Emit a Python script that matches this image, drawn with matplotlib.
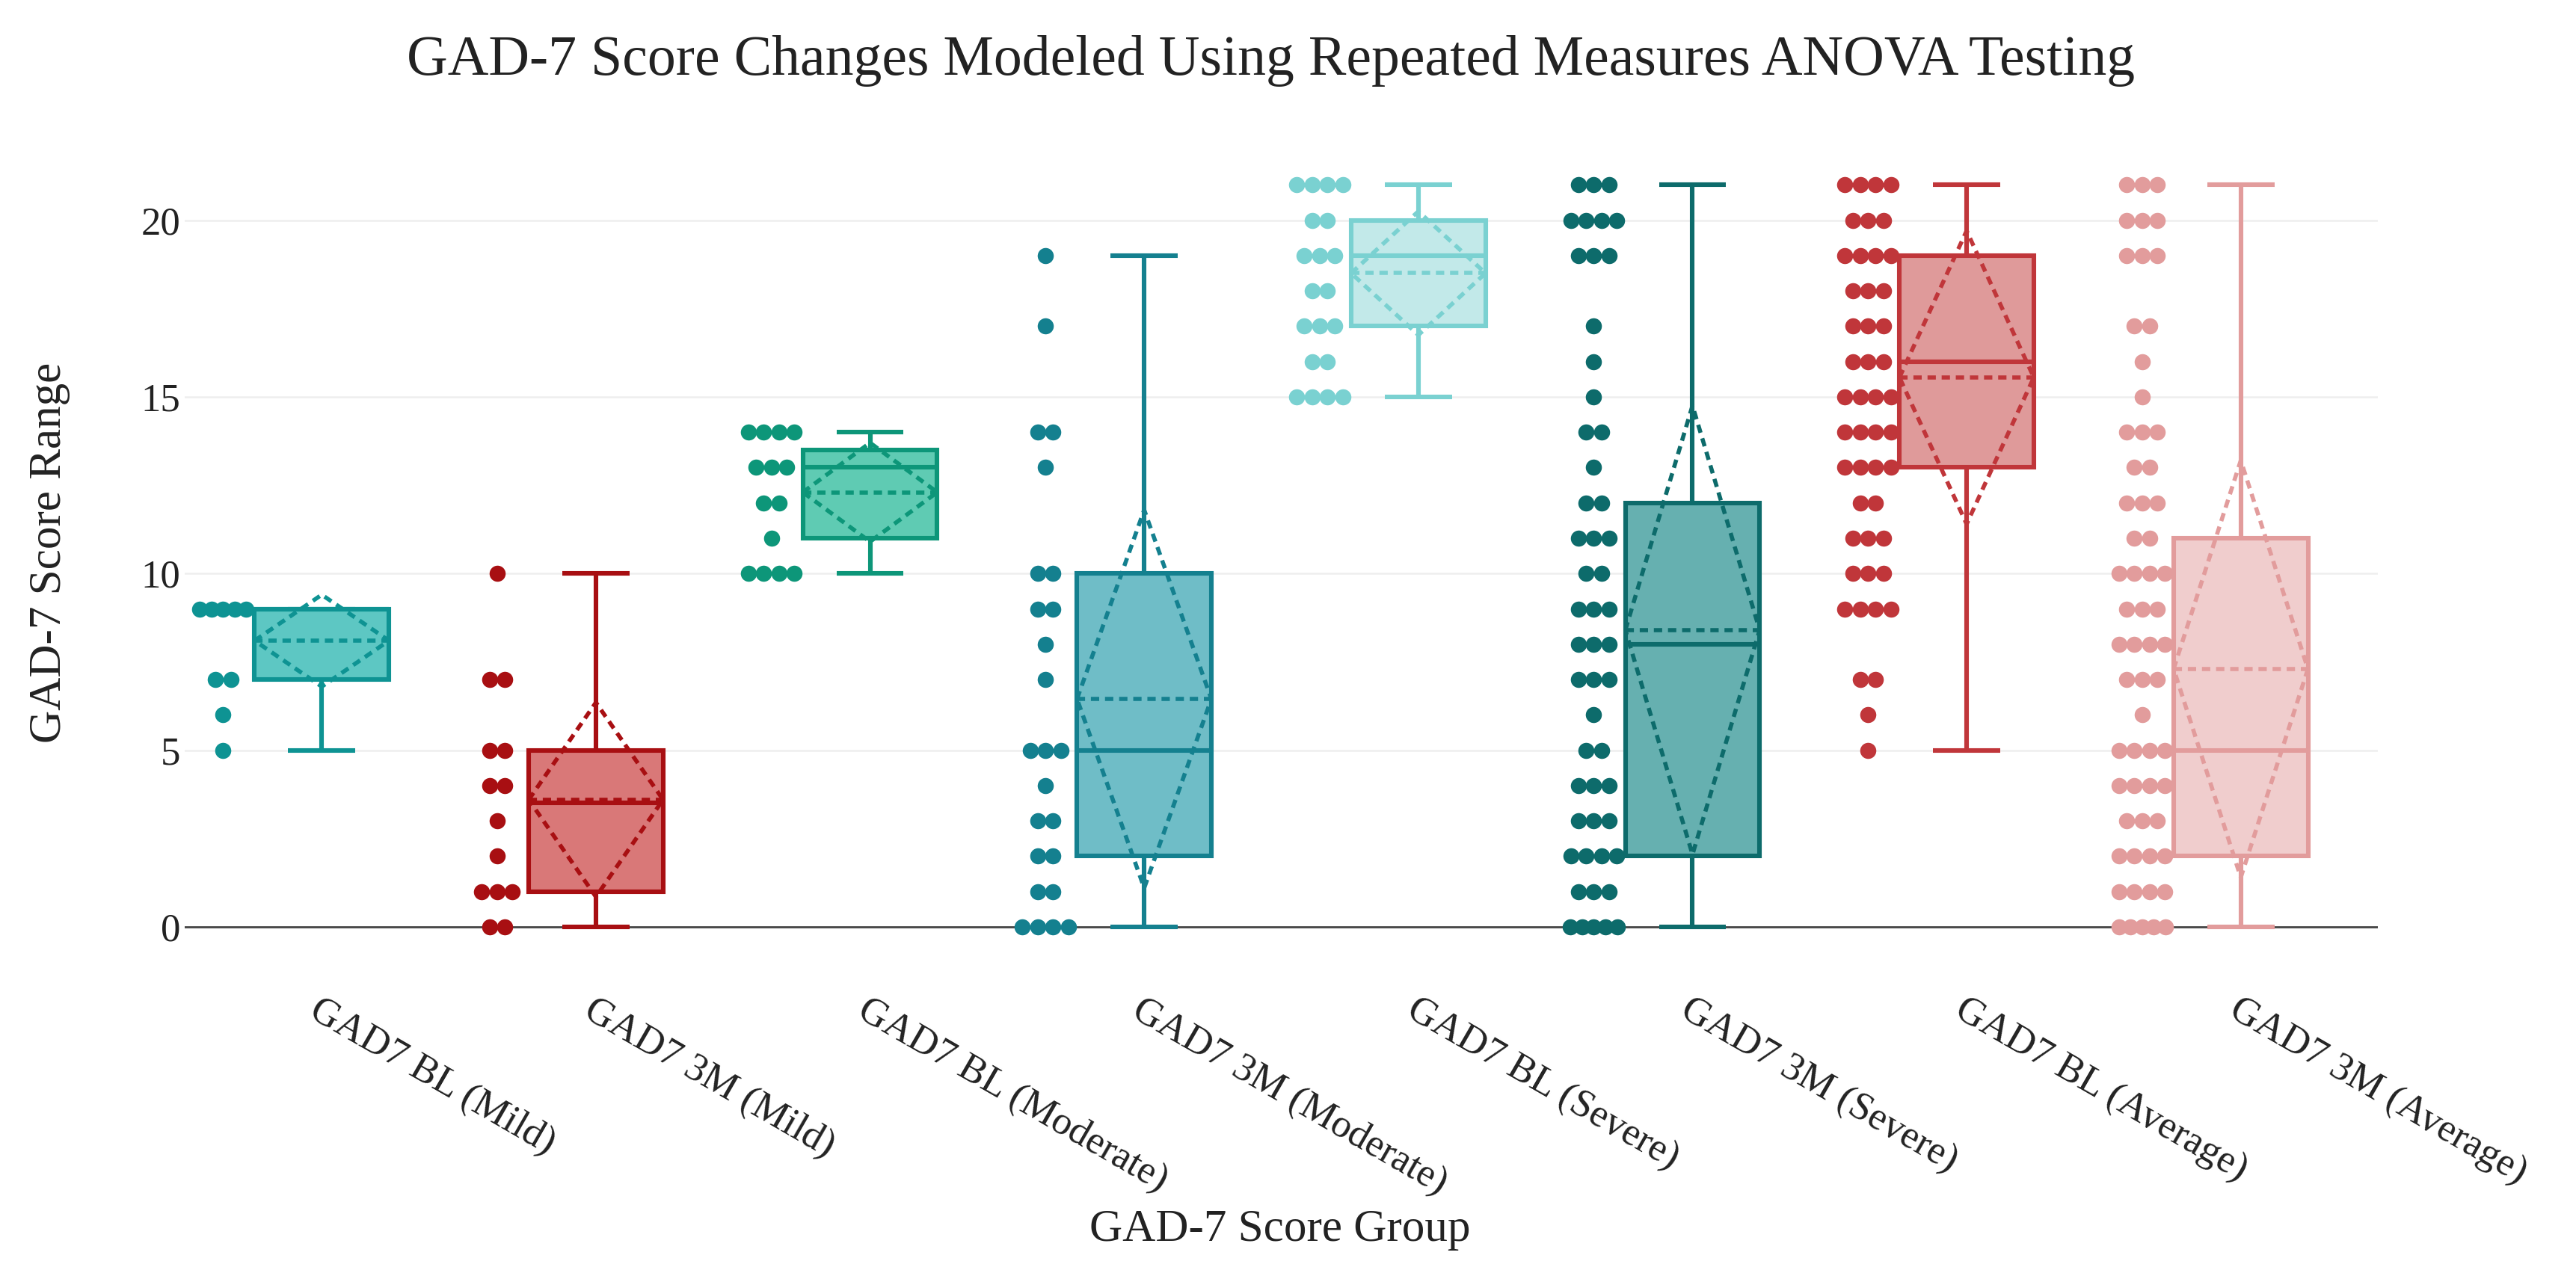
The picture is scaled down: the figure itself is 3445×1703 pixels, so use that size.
import matplotlib
matplotlib.use("Agg")
import matplotlib.pyplot as plt
import numpy as np

# ---------------- data ----------------
categories = ["GAD7 BL (Mild)", "GAD7 3M (Mild)", "GAD7 BL (Moderate)", "GAD7 3M (Moderate)",
              "GAD7 BL (Severe)", "GAD7 3M (Severe)", "GAD7 BL (Average)", "GAD7 3M (Average)"]

bl_mild = [9, 9, 9, 9, 9, 7, 7, 6, 5]
m3_mild = [10, 7, 7, 5, 5, 4, 4, 3, 2, 1, 1, 1, 0, 0]
bl_moderate = [14, 14, 14, 14, 13, 13, 13, 12, 12, 11, 10, 10, 10, 10]
m3_moderate = [19, 17, 14, 14, 13, 10, 10, 9, 9, 8, 7, 5, 5, 5, 4, 3, 3, 2, 2, 1, 1, 0, 0, 0, 0]
bl_severe = [21, 21, 21, 21, 20, 20, 19, 19, 19, 18, 18, 17, 17, 17, 16, 16, 15, 15, 15, 15]
m3_severe = [21, 21, 21, 20, 20, 20, 20, 19, 19, 19, 17, 16, 15, 14, 14, 13, 12, 12, 11, 11, 11,
             10, 10, 9, 9, 9, 8, 8, 8, 7, 7, 7, 6, 5, 5, 4, 4, 4, 3, 3, 3, 2, 2, 2, 2,
             1, 1, 1, 0, 0, 0, 0, 0]
bl_average = [21, 21, 21, 21, 20, 20, 20, 19, 19, 19, 19, 18, 18, 18, 17, 17, 17, 16, 16, 16,
              15, 15, 15, 15, 14, 14, 14, 14, 13, 13, 13, 13, 12, 12, 11, 11, 11, 10, 10, 10,
              9, 9, 9, 9, 7, 7, 6, 5]
m3_average = [21, 21, 21, 20, 20, 20, 19, 19, 19, 17, 17, 16, 15, 14, 14, 14, 13, 13, 12, 12, 12,
              11, 11, 10, 10, 10, 10, 9, 9, 9, 8, 8, 8, 8, 7, 7, 7, 6, 5, 5, 5, 5,
              4, 4, 4, 4, 3, 3, 3, 2, 2, 2, 2, 1, 1, 1, 1, 0, 0, 0, 0, 0]

points = [bl_mild, m3_mild, bl_moderate, m3_moderate, bl_severe, m3_severe, bl_average, m3_average]

# box statistics as drawn in the reference
q1 = [7, 1, 11, 2, 17, 2, 13, 2]
median = [9, 3.5, 13, 5, 19, 8, 16, 5]
q3 = [9, 5, 13.5, 10, 20, 12, 19, 11]
whisker_low = [5, 0, 10, 0, 15, 0, 5, 0]
whisker_high = [9, 10, 14, 19, 21, 21, 21, 21]
mean = [8.1, 3.6, 12.3, 6.45, 18.5, 8.4, 15.55, 7.3]
sd = [1.3, 2.75, 1.4, 5.35, 1.75, 6.35, 4.15, 5.9]

line_colors = ["#0e9393", "#a80f12", "#0d9679", "#14808f", "#7ad1d1", "#0d6b6b", "#c0363a", "#e29c9c"]
fill_colors = ["#5dc7c3", "#d97878", "#5fcbb3", "#6fbdc7", "#c2e9e9", "#66b0b0", "#df9a9a", "#f0cdcd"]

# ---------------- figure ----------------
W, H = 3445, 1703
DPI = 100
fig = plt.figure(figsize=(W / DPI, H / DPI), dpi=DPI)
fig.patch.set_facecolor("white")

serif = ["Liberation Serif", "DejaVu Serif"]
text_color = "#222222"

ax = fig.add_axes([247 / W, 0.2386, (3180 - 247) / W, 0.6495])
ax.set_xlim(-0.5, len(categories) - 0.5)
ax.set_ylim(-1.2, 22.2)
for s in ax.spines.values():
    s.set_visible(False)

# grid + zero line
for g in [5, 10, 15, 20]:
    ax.axhline(g, color="#eeeeee", lw=1.8, zorder=0)
ax.axhline(0, color="#444444", lw=2.0, zorder=1)

box_w = 0.49
pt_off = -0.36
lw = 4.4
dlw = 4.0
for i, (vals, c, fc) in enumerate(zip(points, line_colors, fill_colors)):
    x0 = i
    # box
    ax.add_patch(plt.Rectangle((x0 - box_w / 2, q1[i]), box_w, q3[i] - q1[i],
                               facecolor=fc, edgecolor=c, lw=lw, zorder=3))
    # median
    ax.plot([x0 - box_w / 2, x0 + box_w / 2], [median[i], median[i]], color=c, lw=lw, zorder=4,
            solid_capstyle="butt")
    # whiskers
    ax.plot([x0, x0], [q3[i], whisker_high[i]], color=c, lw=lw, zorder=2, solid_capstyle="butt")
    ax.plot([x0, x0], [q1[i], whisker_low[i]], color=c, lw=lw, zorder=2, solid_capstyle="butt")
    for wv in (whisker_low[i], whisker_high[i]):
        ax.plot([x0 - box_w / 4, x0 + box_w / 4], [wv, wv], color=c, lw=lw, zorder=2,
                solid_capstyle="butt")
    # mean and sd diamond (dashed)
    ax.plot([x0 - box_w / 2, x0 + box_w / 2], [mean[i], mean[i]], color=c, lw=dlw,
            dashes=(2.0, 1.4), zorder=5)
    dx = [x0 - box_w / 2, x0, x0 + box_w / 2, x0, x0 - box_w / 2]
    dy = [mean[i], mean[i] + sd[i], mean[i], mean[i] - sd[i], mean[i]]
    ax.plot(dx, dy, color=c, lw=dlw, dashes=(2.0, 1.4), zorder=5)
    # individual points with evenly spread jitter for repeated values
    arr = np.array(vals, dtype=float)
    xs = []
    ys = []
    for v in sorted(set(vals), reverse=True):
        n = int((arr == v).sum())
        half = min(0.085, 0.028 * (n - 1))
        offs = np.linspace(-half, half, n) if n > 1 else np.array([0.0])
        xs.extend(x0 + pt_off + offs)
        ys.extend([v] * n)
    ax.plot(xs, ys, linestyle="none", marker="o", markersize=15.5, color=c,
            markeredgewidth=0, zorder=6, clip_on=False)

# ticks
ax.set_yticks([0, 5, 10, 15, 20])
ax.set_yticklabels(["0", "5", "10", "15", "20"], fontsize=38, family=serif, color=text_color)
ax.tick_params(axis="y", length=0, pad=4)
ax.set_xticks(range(len(categories)))
ax.set_xticklabels(categories, fontsize=38, family=serif, color=text_color,
                   rotation=-30, ha="left", va="top", rotation_mode="anchor")
ax.tick_params(axis="x", length=0, pad=22)

# titles
fig.text(1700 / W, 1 - 81 / H, "GAD-7 Score Changes Modeled Using Repeated Measures ANOVA Testing",
         ha="center", va="center", fontsize=54.5, family=serif, color=text_color)
fig.text(66 / W, 1 - 739 / H, "GAD-7 Score Range", rotation=90, ha="center", va="center",
         fontsize=44, family=serif, color=text_color)
fig.text(1712 / W, 1 - 1645 / H, "GAD-7 Score Group", ha="center", va="center",
         fontsize=44, family=serif, color=text_color)

fig.savefig("out.png", dpi=DPI, facecolor="white")
